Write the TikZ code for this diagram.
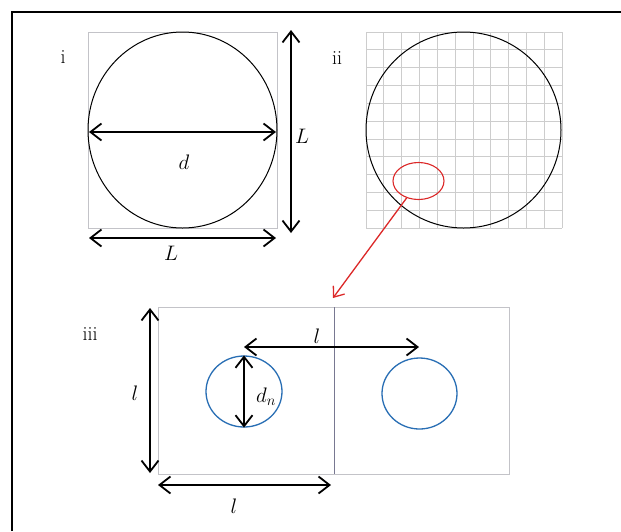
\documentclass[tikz,border=0pt]{standalone}
\usepackage{fix-cm}
\usetikzlibrary{arrows.meta,shapes.geometric}
\definecolor{gridc}{RGB}{205,205,205}
\definecolor{boxc}{RGB}{195,195,200}
\definecolor{midc}{RGB}{120,120,145}
\definecolor{bluec}{RGB}{40,110,180}
\definecolor{redc}{RGB}{220,40,40}
\begin{document}
\begin{tikzpicture}[x=1pt,y=-1pt,
  dimarrow/.style={line width=1.8pt,{Straight Barb[length=11pt,width=17pt,line width=1.8pt]}-{Straight Barb[length=11pt,width=17pt,line width=1.8pt]}},
  redarrow/.style={line width=1.3pt,draw=redc,-{Straight Barb[length=9pt,width=14pt,line width=1.3pt]}},
  lab/.style={font=\fontsize{20}{24}\selectfont,inner sep=0pt},
  mlab/.style={font=\fontsize{21}{24}\selectfont,inner sep=0pt},
  blob/.style={ellipse,draw,inner sep=0pt,line width=1pt}]
\useasboundingbox (0,0) rectangle (621,531);
\fill[white] (0,0) rectangle (621,531);
% outer frame
\draw[line width=1.4pt] (12,531) -- (12,12) -- (621,12);

% ---------- panel i ----------
\node[lab] (ti) at (63,57) {i};
\draw[boxc,line width=0.9pt] (88,32) rectangle (277,228);
\node[blob,minimum width=189pt,minimum height=196pt] (ci) at (182.5,130) {};
\coordinate (dA) at (89,132);
\coordinate (dB) at (276,132);
\draw[dimarrow] (dA) -- (dB);
\node[mlab] (dlab) at (184,162) {$d$};
\coordinate (LvA) at (291,30);
\coordinate (LvB) at (291,233);
\draw[dimarrow] (LvA) -- (LvB);
\node[mlab] (Lv) at (302,136) {$L$};
\coordinate (LhA) at (89,238);
\coordinate (LhB) at (276,238);
\draw[dimarrow] (LhA) -- (LhB);
\node[mlab] (Lh) at (171,253) {$L$};

% ---------- panel ii ----------
\node[lab] (tii) at (337,58) {ii};
\foreach \k in {0,...,11}{
  \draw[gridc,line width=0.8pt] ({366+\k*17.82},32) -- ({366+\k*17.82},228);
  \draw[gridc,line width=0.8pt] (366,{32+\k*17.82}) -- (562,{32+\k*17.82});
}
\node[blob,minimum width=195pt,minimum height=196pt] (cii) at (463.5,130) {};
\node[ellipse,draw=redc,line width=1.1pt,inner sep=0pt,minimum width=51pt,minimum height=37pt] (zoomc) at (418.5,181) {};
\coordinate (tip) at (333,298);
\draw[redarrow] (zoomc.235) -- (tip);

% ---------- panel iii ----------
\node[lab] (tiii) at (90,334) {iii};
\draw[boxc,line width=0.9pt] (158,307) rectangle (509,474);
\coordinate (midT) at (334,307);
\coordinate (midB) at (334,474);
\draw[midc,line width=0.8pt] (midT) -- (midB);
\node[ellipse,draw=bluec,line width=1.3pt,inner sep=0pt,minimum width=76pt,minimum height=71pt] (c1) at (244,391.5) {};
\node[ellipse,draw=bluec,line width=1.3pt,inner sep=0pt,minimum width=75pt,minimum height=71pt] (c2) at (419.5,393.5) {};
\draw[dimarrow] (c1.north) -- (c1.south);
\node[mlab] (dn) at (266,397) {$d_n$};
\coordinate (ltA) at (244,347);
\coordinate (ltB) at (419,347);
\draw[dimarrow] (ltA) -- (ltB);
\node[mlab] (lt) at (317,336) {$l$};
\coordinate (lvA) at (150,308);
\coordinate (lvB) at (150,473);
\draw[dimarrow] (lvA) -- (lvB);
\node[mlab] (lv) at (135,393) {$l$};
\coordinate (lhA) at (158,485);
\coordinate (lhB) at (331,485);
\draw[dimarrow] (lhA) -- (lhB);
\node[mlab] (lh) at (234,506) {$l$};
\end{tikzpicture}
\end{document}
